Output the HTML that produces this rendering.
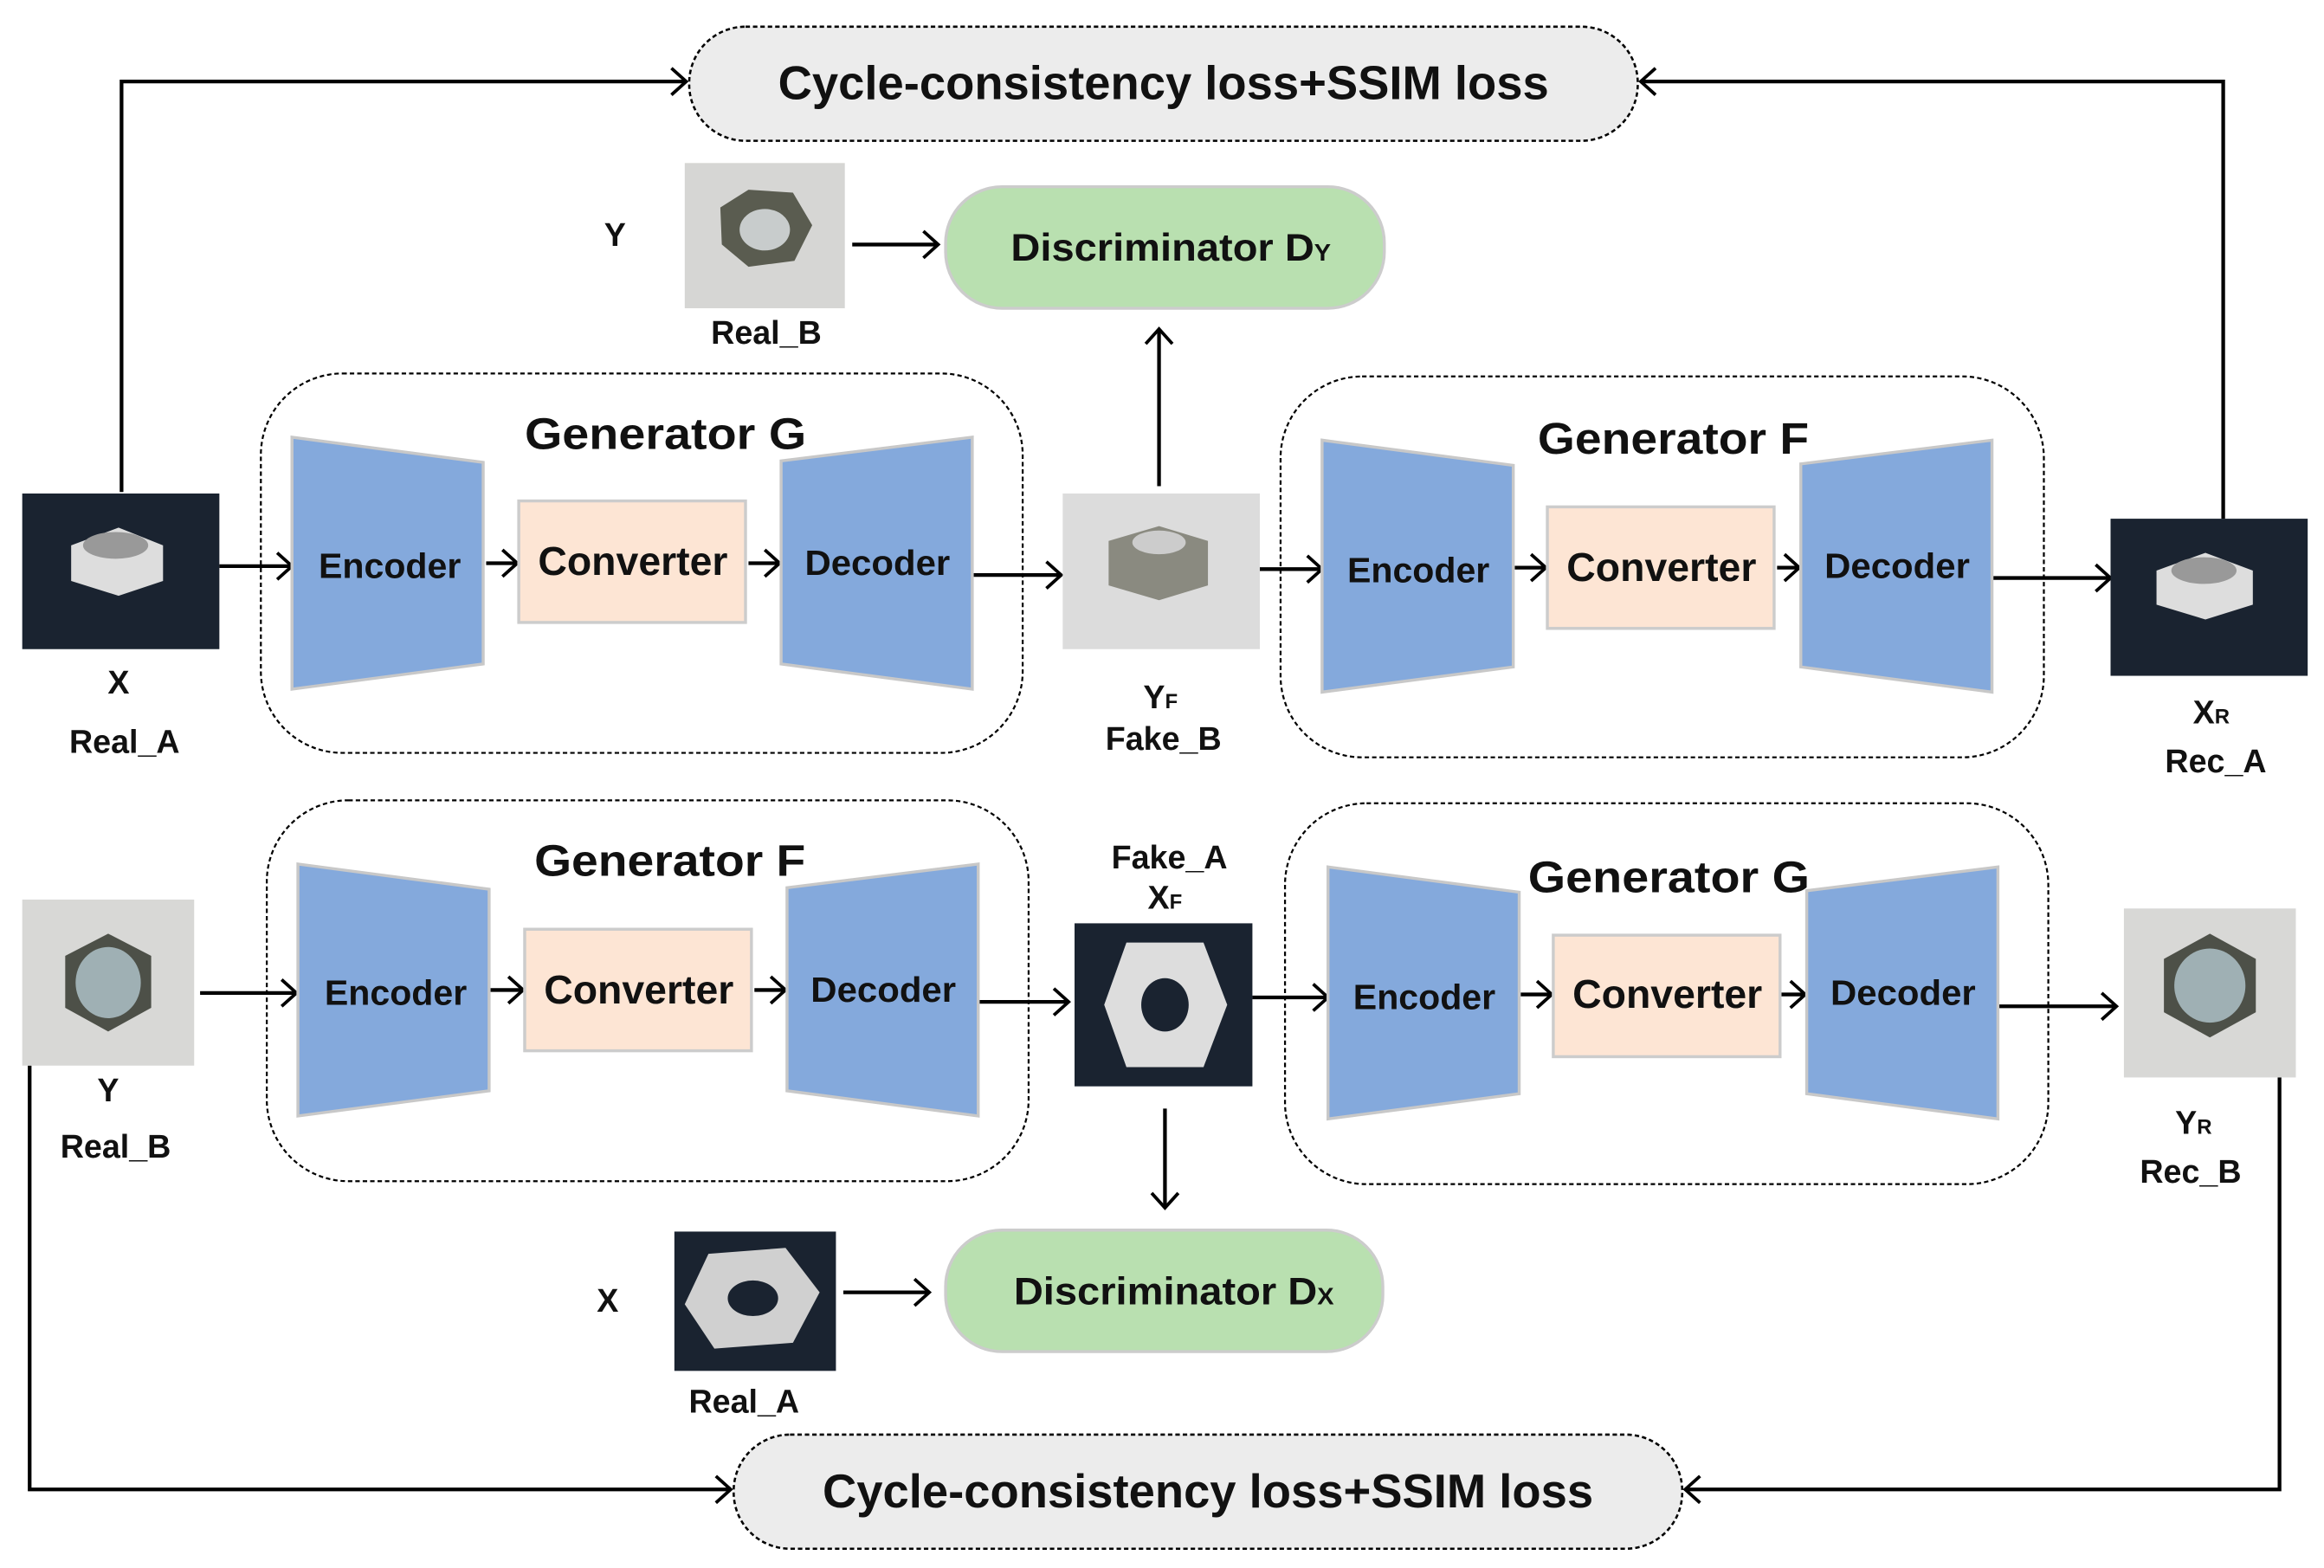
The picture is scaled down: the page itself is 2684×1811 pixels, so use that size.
<!DOCTYPE html>
<html><head><meta charset="utf-8"><style>
html,body{margin:0;padding:0;background:#fff}
svg{display:block}
text{font-family:"Liberation Sans",sans-serif;font-weight:bold;fill:#111}
</style></head><body>
<svg width="2684" height="1811" viewBox="0 0 1568 1058" xmlns="http://www.w3.org/2000/svg">
<defs>
<marker id="a" markerWidth="14" markerHeight="20" refX="12" refY="10" orient="auto" markerUnits="userSpaceOnUse">
<polyline points="2,1 12,10 2,19" fill="none" stroke="#000" stroke-width="2.2"/>
</marker>
<g id="enc"><polygon points="0,0 129,17 129,153 0,170" fill="#84a9dc" stroke="#c8c8c8" stroke-width="2"/></g>
<g id="dec"><polygon points="0,16 129,0 129,170 0,153" fill="#84a9dc" stroke="#c8c8c8" stroke-width="2"/></g>
</defs>
<g stroke="#000" stroke-width="2.5" fill="none">
<polyline points="82,332 82,55 463,55" marker-end="url(#a)"/>
<polyline points="1500,350 1500,55 1107,55" marker-end="url(#a)"/>
<polyline points="20,719 20,1005 493,1005" marker-end="url(#a)"/>
<polyline points="1538,727 1538,1005 1137,1005" marker-end="url(#a)"/>
<line x1="575" y1="165" x2="633" y2="165" marker-end="url(#a)"/>
<line x1="782" y1="328" x2="782" y2="222" marker-end="url(#a)"/>
<line x1="148" y1="382" x2="197" y2="382" marker-end="url(#a)"/>
<line x1="328" y1="380" x2="349" y2="380" marker-end="url(#a)"/>
<line x1="505" y1="380" x2="526" y2="380" marker-end="url(#a)"/>
<line x1="656" y1="388" x2="716" y2="388" marker-end="url(#a)"/>
<line x1="850" y1="384" x2="892" y2="384" marker-end="url(#a)"/>
<line x1="1022" y1="383" x2="1043" y2="383" marker-end="url(#a)"/>
<line x1="1199" y1="383" x2="1214" y2="383" marker-end="url(#a)"/>
<line x1="1344" y1="390" x2="1424" y2="390" marker-end="url(#a)"/>
<line x1="135" y1="670" x2="200" y2="670" marker-end="url(#a)"/>
<line x1="330" y1="668" x2="353" y2="668" marker-end="url(#a)"/>
<line x1="509" y1="668" x2="530" y2="668" marker-end="url(#a)"/>
<line x1="660" y1="676" x2="721" y2="676" marker-end="url(#a)"/>
<line x1="845" y1="673" x2="896" y2="673" marker-end="url(#a)"/>
<line x1="786" y1="748" x2="786" y2="815" marker-end="url(#a)"/>
<line x1="1026" y1="671" x2="1047" y2="671" marker-end="url(#a)"/>
<line x1="1201" y1="671" x2="1218" y2="671" marker-end="url(#a)"/>
<line x1="1348" y1="679" x2="1428" y2="679" marker-end="url(#a)"/>
<line x1="569" y1="872" x2="627" y2="872" marker-end="url(#a)"/>
</g>
<!-- loss pills -->
<rect x="465" y="18" width="640" height="77" rx="38" fill="#ececec" stroke="#000" stroke-width="1.5" stroke-dasharray="3,2"/>
<text x="785" y="67" font-size="32" text-anchor="middle" textLength="520" lengthAdjust="spacingAndGlyphs">Cycle-consistency loss+SSIM loss</text>
<rect x="495" y="968" width="640" height="77" rx="38" fill="#ececec" stroke="#000" stroke-width="1.5" stroke-dasharray="3,2"/>
<text x="815" y="1017" font-size="32" text-anchor="middle" textLength="520" lengthAdjust="spacingAndGlyphs">Cycle-consistency loss+SSIM loss</text>
<!-- discriminators -->
<rect x="638" y="126" width="296" height="82" rx="38" fill="#b9e0b0" stroke="#ccc" stroke-width="2"/>
<text x="790" y="176" font-size="26" text-anchor="middle" textLength="216" lengthAdjust="spacingAndGlyphs">Discriminator D<tspan font-size="16">Y</tspan></text>
<rect x="638" y="830" width="295" height="82" rx="38" fill="#b9e0b0" stroke="#ccc" stroke-width="2"/>
<text x="792" y="880" font-size="26" text-anchor="middle" textLength="216" lengthAdjust="spacingAndGlyphs">Discriminator D<tspan font-size="16">X</tspan></text>
<!-- generator boxes -->
<g fill="none" stroke="#000" stroke-width="1.3" stroke-dasharray="3,2">
<rect x="176" y="252" width="514" height="256" rx="55"/>
<rect x="864" y="254" width="515" height="257" rx="55"/>
<rect x="180" y="540" width="514" height="257" rx="55"/>
<rect x="867" y="542" width="515" height="257" rx="55"/>
</g>
<g font-size="30">
<text x="449" y="303" text-anchor="middle" textLength="190" lengthAdjust="spacingAndGlyphs">Generator G</text>
<text x="1129" y="306" text-anchor="middle" textLength="183" lengthAdjust="spacingAndGlyphs">Generator F</text>
<text x="452" y="591" text-anchor="middle" textLength="183" lengthAdjust="spacingAndGlyphs">Generator F</text>
<text x="1126" y="602" text-anchor="middle" textLength="190" lengthAdjust="spacingAndGlyphs">Generator G</text>
</g>
<!-- blocks -->
<use href="#enc" x="197" y="295"/><use href="#dec" x="527" y="295"/>
<rect x="350" y="338" width="153" height="82" fill="#fde5d4" stroke="#ccc" stroke-width="2"/>
<use href="#enc" x="892" y="297"/><use href="#dec" x="1215" y="297"/>
<rect x="1044" y="342" width="153" height="82" fill="#fde5d4" stroke="#ccc" stroke-width="2"/>
<use href="#enc" x="201" y="583"/><use href="#dec" x="531" y="583"/>
<rect x="354" y="627" width="153" height="82" fill="#fde5d4" stroke="#ccc" stroke-width="2"/>
<use href="#enc" x="896" y="585"/><use href="#dec" x="1219" y="585"/>
<rect x="1048" y="631" width="153" height="82" fill="#fde5d4" stroke="#ccc" stroke-width="2"/>
<g font-size="24" text-anchor="middle">
<text x="263" y="390" textLength="96" lengthAdjust="spacingAndGlyphs">Encoder</text>
<text x="427" y="388" font-size="27" textLength="128" lengthAdjust="spacingAndGlyphs">Converter</text>
<text x="592" y="388" textLength="98" lengthAdjust="spacingAndGlyphs">Decoder</text>
<text x="957" y="393" textLength="96" lengthAdjust="spacingAndGlyphs">Encoder</text>
<text x="1121" y="392" font-size="27" textLength="128" lengthAdjust="spacingAndGlyphs">Converter</text>
<text x="1280" y="390" textLength="98" lengthAdjust="spacingAndGlyphs">Decoder</text>
<text x="267" y="678" textLength="96" lengthAdjust="spacingAndGlyphs">Encoder</text>
<text x="431" y="677" font-size="27" textLength="128" lengthAdjust="spacingAndGlyphs">Converter</text>
<text x="596" y="676" textLength="98" lengthAdjust="spacingAndGlyphs">Decoder</text>
<text x="961" y="681" textLength="96" lengthAdjust="spacingAndGlyphs">Encoder</text>
<text x="1125" y="680" font-size="27" textLength="128" lengthAdjust="spacingAndGlyphs">Converter</text>
<text x="1284" y="678" textLength="98" lengthAdjust="spacingAndGlyphs">Decoder</text>
</g>
<!-- images -->
<rect x="15" y="333" width="133" height="105" fill="#1a2330"/>
<polygon points="48,368 80,356 110,368 110,392 80,402 48,392" fill="#ddd"/><ellipse cx="78" cy="368" rx="22" ry="9" fill="#999"/>
<rect x="717" y="333" width="133" height="105" fill="#dcdcdc"/>
<polygon points="748,365 782,355 815,365 815,395 782,405 748,395" fill="#8a8a80"/><ellipse cx="782" cy="366" rx="18" ry="8" fill="#ccc"/>
<rect x="1424" y="350" width="133" height="106" fill="#1a2330"/>
<polygon points="1455,385 1488,373 1520,385 1520,408 1488,418 1455,408" fill="#ddd"/><ellipse cx="1487" cy="385" rx="22" ry="9" fill="#999"/>
<rect x="462" y="110" width="108" height="98" fill="#d6d6d4"/>
<polygon points="486,140 505,128 535,130 548,152 536,176 505,180 487,165" fill="#5a5c50"/><ellipse cx="516" cy="155" rx="17" ry="14" fill="#c8cccc"/>
<rect x="15" y="607" width="116" height="112" fill="#d8d8d6"/>
<polygon points="73,630 102,645 102,680 73,696 44,680 44,645" fill="#4d5048"/><ellipse cx="73" cy="663" rx="22" ry="24" fill="#9fb0b4"/>
<rect x="1433" y="613" width="116" height="114" fill="#d8d8d6"/>
<polygon points="1491,630 1522,647 1522,683 1491,700 1460,683 1460,647" fill="#4d5048"/><ellipse cx="1491" cy="665" rx="24" ry="25" fill="#9fb0b4"/>
<rect x="725" y="623" width="120" height="110" fill="#1a2330"/>
<polygon points="760,636 812,636 828,678 812,720 760,720 745,678" fill="#ddd"/><ellipse cx="786" cy="678" rx="16" ry="18" fill="#1a2330"/>
<rect x="455" y="831" width="109" height="94" fill="#1a2330"/>
<polygon points="478,846 530,842 553,872 535,906 482,910 462,880" fill="#d0d0d0"/><ellipse cx="508" cy="876" rx="17" ry="12" fill="#1a2330"/>
<!-- labels -->
<g font-size="22" text-anchor="middle">
<text x="415" y="166">Y</text>
<text x="517" y="232">Real_B</text>
<text x="80" y="468">X</text>
<text x="84" y="508">Real_A</text>
<text x="783" y="478">Y<tspan font-size="14">F</tspan></text>
<text x="785" y="506">Fake_B</text>
<text x="1492" y="488">X<tspan font-size="14">R</tspan></text>
<text x="1495" y="521">Rec_A</text>
<text x="73" y="743">Y</text>
<text x="78" y="781">Real_B</text>
<text x="789" y="586">Fake_A</text>
<text x="786" y="613">X<tspan font-size="14">F</tspan></text>
<text x="1480" y="765">Y<tspan font-size="14">R</tspan></text>
<text x="1478" y="798">Rec_B</text>
<text x="410" y="885">X</text>
<text x="502" y="953">Real_A</text>
</g>
</svg>
</body></html>
